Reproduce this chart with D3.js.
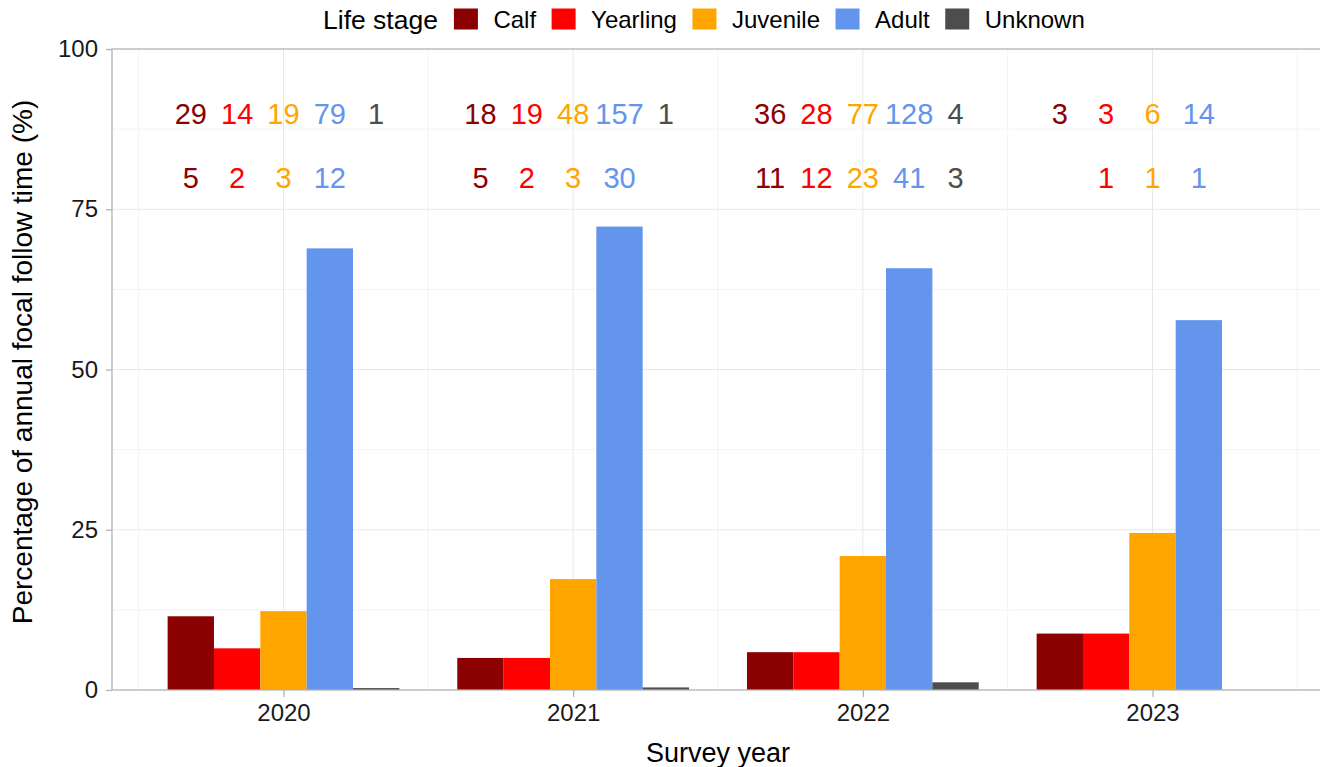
<!DOCTYPE html>
<html>
<head>
<meta charset="utf-8">
<script src="https://cdn.jsdelivr.net/npm/d3@7"></script>
<style>
  html, body { margin: 0; padding: 0; background: #fff; }
  svg { display: block; font-family: "Liberation Sans", Arial, Helvetica, sans-serif; }
</style>
</head>
<body>
<div id="chart"></div>
<script>
// ---- data ----
const years = ["2020", "2021", "2022", "2023"];
const stages = ["Calf", "Yearling", "Juvenile", "Adult", "Unknown"];
const stageColors = ["#8B0000", "#FF0000", "#FFA500", "#6495ED", "#4D4D4D"];

// percentage of annual focal follow time, per stage, by year
const pctCalf     = [11.5, 5.0, 5.9, 8.8];
const pctYearling = [6.5, 5.0, 5.9, 8.8];
const pctJuvenile = [12.3, 17.3, 20.9, 24.5];
const pctAdult    = [68.9, 72.3, 65.8, 57.7];
const pctUnknown  = [0.3, 0.4, 1.2, null];

// upper row of counts (y = 90), per stage, by year
const rowTopCalf     = [29, 18, 36, 3];
const rowTopYearling = [14, 19, 28, 3];
const rowTopJuvenile = [19, 48, 77, 6];
const rowTopAdult    = [79, 157, 128, 14];
const rowTopUnknown  = [1, 1, 4, null];

// lower row of counts (y = 80), per stage, by year
const rowBotCalf     = [5, 5, 11, null];
const rowBotYearling = [2, 2, 12, 1];
const rowBotJuvenile = [3, 3, 23, 1];
const rowBotAdult    = [12, 30, 41, 1];
const rowBotUnknown  = [null, null, 3, null];

const yTicks = [0, 25, 50, 75, 100];
const yMinor = [12.5, 37.5, 62.5, 87.5];
const labelYTop = 90;
const labelYBot = 80;

const pctSeries = [pctCalf, pctYearling, pctJuvenile, pctAdult, pctUnknown];
const topSeries = [rowTopCalf, rowTopYearling, rowTopJuvenile, rowTopAdult, rowTopUnknown];
const botSeries = [rowBotCalf, rowBotYearling, rowBotJuvenile, rowBotAdult, rowBotUnknown];

// ---- layout ----
const W = 1320, H = 767;
const panel = { left: 112, right: 1324, top: 49, bottom: 690 };

const svg = d3.select("#chart").append("svg").attr("width", W).attr("height", H);

const x = d3.scalePoint().domain(years).range([panel.left, panel.right]).padding(0.592);
const step = x.step();
const xDodge = d3.scaleBand().domain(stages).range([-0.4 * step, 0.4 * step]).padding(0);
const y = d3.scaleLinear().domain([0, 100]).range([panel.bottom, panel.top]);
const color = d3.scaleOrdinal().domain(stages).range(stageColors);

// grid
const grid = svg.append("g");
grid.selectAll("line.ymin").data(yMinor).join("line")
  .attr("x1", panel.left).attr("x2", panel.right)
  .attr("y1", d => y(d)).attr("y2", d => y(d))
  .attr("stroke", "#f3f3f3").attr("stroke-width", 1);
const xMinor = d3.range(years.length + 1).map(i => x(years[0]) + (i - 0.5) * step);
grid.selectAll("line.xmin").data(xMinor).join("line")
  .attr("x1", d => d).attr("x2", d => d)
  .attr("y1", panel.top).attr("y2", panel.bottom)
  .attr("stroke", "#f3f3f3").attr("stroke-width", 1);
grid.selectAll("line.ymaj").data(yTicks.slice(1, -1)).join("line")
  .attr("x1", panel.left).attr("x2", panel.right)
  .attr("y1", d => y(d)).attr("y2", d => y(d))
  .attr("stroke", "#e8e8e8").attr("stroke-width", 1);
grid.selectAll("line.xmaj").data(years).join("line")
  .attr("x1", d => x(d)).attr("x2", d => x(d))
  .attr("y1", panel.top).attr("y2", panel.bottom)
  .attr("stroke", "#e8e8e8").attr("stroke-width", 1);

// bars
const barData = [];
stages.forEach((s, si) => years.forEach((yr, yi) => {
  const v = pctSeries[si][yi];
  if (v != null) barData.push({ stage: s, year: yr, value: v });
}));
svg.append("g").selectAll("rect").data(barData).join("rect")
  .attr("x", d => x(d.year) + xDodge(d.stage))
  .attr("width", xDodge.bandwidth())
  .attr("y", d => y(d.value))
  .attr("height", d => y(0) - y(d.value))
  .attr("fill", d => color(d.stage));

// count labels
function labelData(series, yv) {
  const out = [];
  stages.forEach((s, si) => years.forEach((yr, yi) => {
    const v = series[si][yi];
    if (v != null) out.push({ stage: s, year: yr, value: v, yv });
  }));
  return out;
}
const labels = labelData(topSeries, labelYTop).concat(labelData(botSeries, labelYBot));
svg.append("g").selectAll("text").data(labels).join("text")
  .attr("x", d => x(d.year) + xDodge(d.stage) + xDodge.bandwidth() / 2)
  .attr("y", d => y(d.yv))
  .attr("dy", "0.36em")
  .attr("text-anchor", "middle")
  .attr("font-size", 29)
  .attr("fill", d => color(d.stage))
  .text(d => d.value);

// panel border
svg.append("rect")
  .attr("x", panel.left).attr("y", panel.top)
  .attr("width", panel.right - panel.left).attr("height", panel.bottom - panel.top)
  .attr("fill", "none").attr("stroke", "#b3b3b3").attr("stroke-width", 1.3);

// y axis
const yAxis = svg.append("g").attr("transform", `translate(${panel.left},0)`)
  .call(d3.axisLeft(y).tickValues(yTicks).tickSize(6).tickPadding(8).tickFormat(d3.format("d")));
yAxis.select(".domain").remove();
yAxis.selectAll(".tick line").attr("stroke", "#b3b3b3").attr("stroke-width", 1.3);
yAxis.selectAll(".tick text").attr("font-size", 24).attr("fill", "#1a1a1a")
  .attr("font-family", "'Liberation Sans', Arial, sans-serif");

// x axis
const xAxis = svg.append("g").attr("transform", `translate(0,${panel.bottom})`)
  .call(d3.axisBottom(x).tickSize(7).tickPadding(7));
xAxis.select(".domain").remove();
xAxis.selectAll(".tick line").attr("stroke", "#b3b3b3").attr("stroke-width", 1.3);
xAxis.selectAll(".tick text").attr("font-size", 24).attr("fill", "#1a1a1a")
  .attr("font-family", "'Liberation Sans', Arial, sans-serif");

// axis titles
svg.append("text")
  .attr("x", (panel.left + panel.right) / 2).attr("y", 752).attr("dy", "0.36em")
  .attr("text-anchor", "middle").attr("font-size", 27).attr("fill", "#000")
  .text("Survey year");
svg.append("text")
  .attr("transform", `translate(22,362) rotate(-90)`)
  .attr("dy", "0.36em")
  .attr("text-anchor", "middle").attr("font-size", 28).attr("fill", "#000")
  .text("Percentage of annual focal follow time (%)");

// legend
const legend = svg.append("g");
const legY = 19;
const title = legend.append("text").attr("x", 323).attr("y", legY).attr("dy", "0.36em")
  .attr("font-size", 26.5).attr("fill", "#000").text("Life stage");
let lx = 323 + title.node().getComputedTextLength() + 16;
stages.forEach((s, i) => {
  legend.append("rect").attr("x", lx).attr("y", legY - 10.5).attr("width", 24).attr("height", 21)
    .attr("fill", color(s));
  const t = legend.append("text").attr("x", lx + 24 + 15.5).attr("y", legY).attr("dy", "0.36em")
    .attr("font-size", 24).attr("fill", "#000").text(s);
  lx = lx + 24 + 15.5 + t.node().getComputedTextLength() + 15.5;
});
</script>
</body>
</html>
